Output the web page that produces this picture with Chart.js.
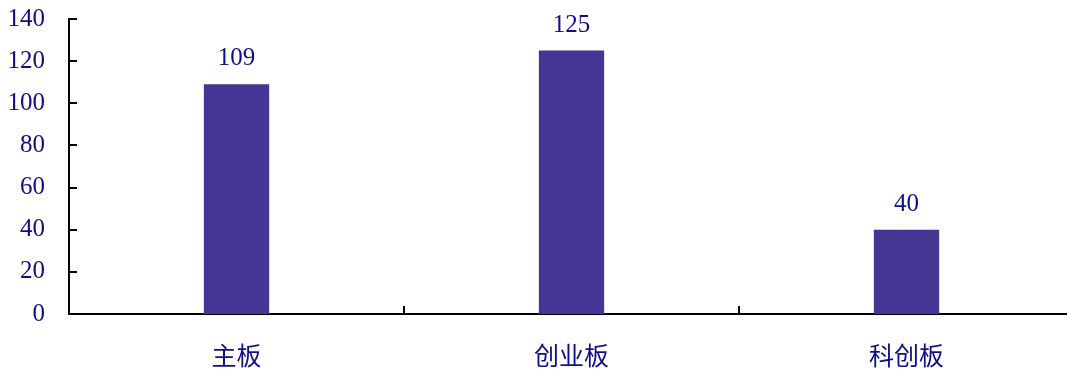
<!DOCTYPE html>
<html>
<head>
<meta charset="utf-8">
<script src="https://cdn.jsdelivr.net/npm/chart.js@4"></script>
<style>
  html, body { margin: 0; padding: 0; background: #fff; overflow: hidden; }
  #box { width: 1074px; height: 374px; }
</style>
</head>
<body>
<div id="box"><canvas id="grafico"></canvas></div>
<script>
const categorias = ['主板', '创业板', '科创板'];
const valores = [109, 125, 40];
const ticksY = [0, 20, 40, 60, 80, 100, 120, 140];

const AZUL = '#443694';
const TEXTO = '#0f0f85';
const SERIF = 'Liberation Serif, Times New Roman, Tinos, serif';

// marcas de eje hacia dentro + etiquetas de valor
const marcas = {
    id: 'marcas',
    afterDraw(chart) {
        const ctx = chart.ctx;
        const y = chart.scales.y;
        const area = chart.chartArea;
        ctx.save();
        ctx.strokeStyle = '#000';
        ctx.lineWidth = 2;
        ctx.beginPath();
        ticksY.forEach(v => {
            const py = Math.round(y.getPixelForValue(v));
            ctx.moveTo(area.left, py);
            ctx.lineTo(area.left + 8, py);
        });
        const w = (area.right - area.left) / categorias.length;
        for (let i = 1; i < categorias.length; i++) {
            const px = Math.round(area.left + i * w);
            ctx.moveTo(px, area.bottom);
            ctx.lineTo(px, area.bottom - 8);
        }
        ctx.stroke();

        ctx.fillStyle = TEXTO;
        ctx.font = '25px ' + SERIF;
        ctx.textAlign = 'center';
        ctx.textBaseline = 'bottom';
        chart.getDatasetMeta(0).data.forEach((bar, i) => {
            ctx.fillText(String(valores[i]), bar.x, bar.y - 13);
        });
        ctx.restore();
    }
};

new Chart(document.getElementById('grafico').getContext('2d'), {
    type: 'bar',
    data: {
        labels: categorias,
        datasets: [{
            data: valores,
            backgroundColor: AZUL,
            borderWidth: 0,
            categoryPercentage: 1,
            barPercentage: 0.195
        }]
    },
    options: {
        responsive: true,
        maintainAspectRatio: false,
        animation: false,
        layout: { padding: { top: 19, right: 0, left: 0, bottom: 0 } },
        plugins: {
            legend: { display: false },
            tooltip: { enabled: false }
        },
        scales: {
            y: {
                min: 0,
                max: 140,
                afterFit(scale) {
                    scale.width = 69;
                    scale.paddingTop = 0;
                    scale.paddingBottom = 0;
                },
                afterBuildTicks(scale) { scale.ticks = ticksY.map(v => ({ value: v })); },
                ticks: {
                    color: TEXTO,
                    padding: 24,
                    font: { family: SERIF, size: 25 }
                },
                grid: { display: false, drawTicks: false },
                border: { display: true, color: '#000', width: 2 }
            },
            x: {
                afterFit(scale) { scale.height = 60; },
                ticks: {
                    color: TEXTO,
                    padding: 26,
                    font: { family: '"Noto Sans CJK SC", sans-serif', size: 25 }
                },
                grid: { display: false, drawTicks: false },
                border: { display: true, color: '#000', width: 2 }
            }
        }
    },
    plugins: [marcas]
});
</script>
</body>
</html>
